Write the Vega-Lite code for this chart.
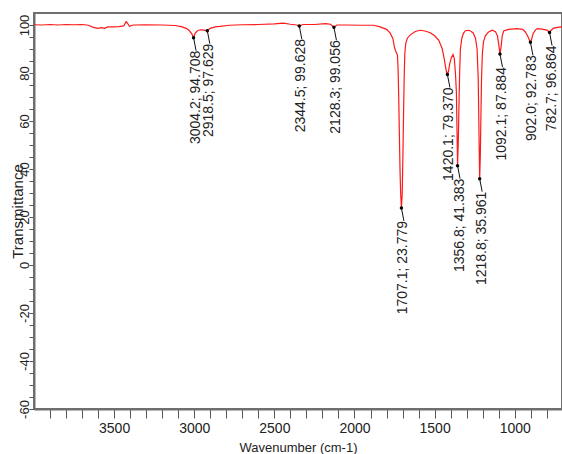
{
  "$schema": "https://vega.github.io/schema/vega-lite/v6.json",
  "autosize": "none",
  "width": 528,
  "height": 396,
  "padding": {"left": 34, "top": 13, "right": 0, "bottom": 45},
  "background": "white",
  "config": {
    "view": {"stroke": "#6e6e6e", "strokeWidth": 2},
    "font": "Liberation Sans",
    "axis": {"grid": false, "domainColor": "#6e6e6e", "domainWidth": 2, "tickColor": "#555555", "tickWidth": 1, "labelColor": "#222222", "titleColor": "#222222", "titleFontWeight": "normal", "labelFont": "Liberation Sans", "titleFont": "Liberation Sans"}
  },
  "datasets": {
    "spectrum": [
      {"wn": 4000, "T": 100.1}, {"wn": 3950, "T": 100.0}, {"wn": 3900, "T": 100.2}, {"wn": 3850, "T": 100.0},
      {"wn": 3800, "T": 100.2}, {"wn": 3750, "T": 100.1}, {"wn": 3700, "T": 100.2}, {"wn": 3660, "T": 99.9},
      {"wn": 3630, "T": 99.0}, {"wn": 3600, "T": 98.6}, {"wn": 3580, "T": 98.9}, {"wn": 3560, "T": 98.6},
      {"wn": 3540, "T": 99.2}, {"wn": 3500, "T": 99.2}, {"wn": 3470, "T": 99.3}, {"wn": 3440, "T": 99.6},
      {"wn": 3425, "T": 101.4}, {"wn": 3415, "T": 100.6}, {"wn": 3405, "T": 99.5}, {"wn": 3380, "T": 100.0},
      {"wn": 3300, "T": 100.1}, {"wn": 3200, "T": 100.0}, {"wn": 3120, "T": 99.8}, {"wn": 3080, "T": 99.3},
      {"wn": 3050, "T": 98.6}, {"wn": 3030, "T": 97.6}, {"wn": 3015, "T": 96.3}, {"wn": 3004.2, "T": 94.708},
      {"wn": 2995, "T": 96.5}, {"wn": 2980, "T": 97.6}, {"wn": 2960, "T": 98.0}, {"wn": 2940, "T": 97.9},
      {"wn": 2918.5, "T": 97.629}, {"wn": 2900, "T": 98.6}, {"wn": 2870, "T": 99.2}, {"wn": 2840, "T": 99.4},
      {"wn": 2780, "T": 99.9}, {"wn": 2700, "T": 100.1}, {"wn": 2600, "T": 100.2}, {"wn": 2500, "T": 100.5},
      {"wn": 2444, "T": 100.8}, {"wn": 2400, "T": 100.3}, {"wn": 2360, "T": 100.0}, {"wn": 2344.5, "T": 99.628},
      {"wn": 2320, "T": 100.2}, {"wn": 2250, "T": 100.2}, {"wn": 2180, "T": 100.6}, {"wn": 2150, "T": 100.3},
      {"wn": 2128.3, "T": 99.056}, {"wn": 2110, "T": 100.0}, {"wn": 2050, "T": 100.0}, {"wn": 1950, "T": 99.9},
      {"wn": 1880, "T": 99.9}, {"wn": 1840, "T": 99.2}, {"wn": 1800, "T": 98.2}, {"wn": 1777, "T": 96.6},
      {"wn": 1760, "T": 94.3}, {"wn": 1750, "T": 90.5}, {"wn": 1740, "T": 88.6}, {"wn": 1732, "T": 87.5},
      {"wn": 1728, "T": 82}, {"wn": 1724, "T": 70}, {"wn": 1720, "T": 55}, {"wn": 1716, "T": 40},
      {"wn": 1712, "T": 30}, {"wn": 1707.1, "T": 23.779}, {"wn": 1702, "T": 30}, {"wn": 1698, "T": 45},
      {"wn": 1694, "T": 62}, {"wn": 1690, "T": 78}, {"wn": 1686, "T": 88}, {"wn": 1680, "T": 92.5},
      {"wn": 1670, "T": 94.5}, {"wn": 1650, "T": 96}, {"wn": 1620, "T": 97.3}, {"wn": 1590, "T": 97.8},
      {"wn": 1560, "T": 97.5}, {"wn": 1527, "T": 96.8}, {"wn": 1500, "T": 95.5}, {"wn": 1474, "T": 93.6},
      {"wn": 1453, "T": 90.2}, {"wn": 1440, "T": 86}, {"wn": 1433, "T": 83}, {"wn": 1425, "T": 80.3},
      {"wn": 1420.1, "T": 79.37}, {"wn": 1414, "T": 80.5}, {"wn": 1405, "T": 84}, {"wn": 1395, "T": 86.5},
      {"wn": 1385, "T": 87.7}, {"wn": 1377, "T": 86}, {"wn": 1370, "T": 80}, {"wn": 1364, "T": 72},
      {"wn": 1360, "T": 55}, {"wn": 1356.8, "T": 41.383}, {"wn": 1352, "T": 52}, {"wn": 1347, "T": 70},
      {"wn": 1343, "T": 82}, {"wn": 1339, "T": 90}, {"wn": 1330, "T": 94.5}, {"wn": 1320, "T": 96.5},
      {"wn": 1308, "T": 97.6}, {"wn": 1285, "T": 97.8}, {"wn": 1260, "T": 96.8}, {"wn": 1245, "T": 94.5},
      {"wn": 1235, "T": 90}, {"wn": 1228, "T": 78}, {"wn": 1224, "T": 60}, {"wn": 1221, "T": 45},
      {"wn": 1218.8, "T": 35.961}, {"wn": 1215, "T": 45}, {"wn": 1211, "T": 62}, {"wn": 1207, "T": 78},
      {"wn": 1202, "T": 88}, {"wn": 1195, "T": 93}, {"wn": 1183, "T": 95.5}, {"wn": 1165, "T": 97},
      {"wn": 1141, "T": 97.8}, {"wn": 1120, "T": 97.2}, {"wn": 1108, "T": 95.5}, {"wn": 1100, "T": 92},
      {"wn": 1092.1, "T": 87.884}, {"wn": 1085, "T": 91}, {"wn": 1078, "T": 95.5}, {"wn": 1069, "T": 97.5},
      {"wn": 1040, "T": 98.2}, {"wn": 985, "T": 98.5}, {"wn": 950, "T": 98.2}, {"wn": 935, "T": 97.2},
      {"wn": 920, "T": 95.5}, {"wn": 910, "T": 94}, {"wn": 902.0, "T": 92.783}, {"wn": 895, "T": 94},
      {"wn": 885, "T": 96.5}, {"wn": 870, "T": 98}, {"wn": 860, "T": 98.5}, {"wn": 830, "T": 98.3},
      {"wn": 800, "T": 97.9}, {"wn": 790, "T": 97.4}, {"wn": 782.7, "T": 96.864}, {"wn": 775, "T": 97.6},
      {"wn": 760, "T": 98.6}, {"wn": 735, "T": 99}, {"wn": 705, "T": 99.2}
    ],
    "peaks": [
      {"wn": 3004.2, "T": 94.708, "label": "3004.2; 94.708"},
      {"wn": 2918.5, "T": 97.629, "label": "2918.5; 97.629"},
      {"wn": 2344.5, "T": 99.628, "label": "2344.5; 99.628"},
      {"wn": 2128.3, "T": 99.056, "label": "2128.3; 99.056"},
      {"wn": 1707.1, "T": 23.779, "label": "1707.1; 23.779"},
      {"wn": 1420.1, "T": 79.370, "label": "1420.1; 79.370"},
      {"wn": 1356.8, "T": 41.383, "label": "1356.8; 41.383"},
      {"wn": 1218.8, "T": 35.961, "label": "1218.8; 35.961"},
      {"wn": 1092.1, "T": 87.884, "label": "1092.1; 87.884"},
      {"wn": 902.0, "T": 92.783, "label": "902.0; 92.783"},
      {"wn": 782.7, "T": 96.864, "label": "782.7; 96.864"}
    ]
  },
  "encoding": {
    "x": {
      "field": "wn", "type": "quantitative",
      "scale": {"domain": [705, 4000], "reverse": true, "nice": false, "zero": false},
      "axis": {
        "title": "Wavenumber (cm-1)",
        "values": [3900, 3800, 3700, 3600, 3500, 3400, 3300, 3200, 3100, 3000, 2900, 2800, 2700, 2600, 2500, 2400, 2300, 2200, 2100, 2000, 1900, 1800, 1700, 1600, 1500, 1400, 1300, 1200, 1100, 1000, 900, 800],
        "labelExpr": "datum.value % 500 === 0 ? '' + datum.value : ''",
        "tickSize": 9, "labelPadding": 3, "labelFontSize": 14, "labelFont": "Liberation Sans Narrow, Liberation Sans",
        "titleFontSize": 13, "titleY": 32, "titleBaseline": "top", "labelFlush": false, "labelOverlap": false
      }
    },
    "y": {
      "field": "T", "type": "quantitative",
      "scale": {"domain": [-60, 105], "nice": false, "zero": false},
      "axis": {
        "title": "Transmittance",
        "values": [-60, -55, -50, -45, -40, -35, -30, -25, -20, -15, -10, -5, 0, 5, 10, 15, 20, 25, 30, 35, 40, 45, 50, 55, 60, 65, 70, 75, 80, 85, 90, 95, 100],
        "labelExpr": "datum.value % 20 === 0 ? '' + datum.value : ''",
        "tickSize": 5, "labelPadding": 1, "labelAngle": -90, "labelAlign": "center", "labelBaseline": "alphabetic",
        "labelFontSize": 13, "titleFontSize": 15, "titleX": -17, "titleY": 198, "titleBaseline": "middle", "titleAlign": "center",
        "labelFlush": false, "labelOverlap": false
      }
    }
  },
  "layer": [
    {
      "data": {"name": "spectrum"},
      "mark": {"type": "line", "color": "#ff1a1a", "strokeWidth": 1.2, "clip": true}
    },
    {
      "data": {"name": "peaks"},
      "mark": {"type": "rule", "color": "#111111", "strokeWidth": 1, "x2Offset": 2.5, "y2Offset": 13},
      "encoding": {"x2": {"field": "wn"}, "y2": {"field": "T"}}
    },
    {
      "data": {"name": "peaks"},
      "mark": {"type": "point", "filled": true, "color": "#000000", "size": 12, "opacity": 1}
    },
    {
      "data": {"name": "peaks"},
      "mark": {"type": "text", "angle": -90, "align": "right", "baseline": "middle", "dx": -13, "dy": 2, "fontSize": 14, "color": "#222222", "font": "Liberation Sans"},
      "encoding": {"text": {"field": "label"}}
    }
  ]
}
